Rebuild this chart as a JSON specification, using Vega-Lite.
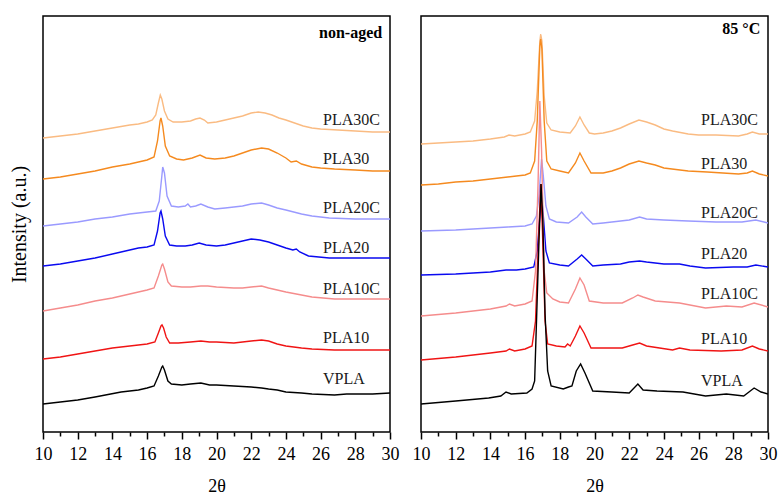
{
"$schema": "https://vega.github.io/schema/vega-lite/v6.json",
"background": "white",
"padding": {"left": 8, "top": 15, "right": 0, "bottom": 0},
"bounds": "flush",
"spacing": 31,
"config": {
  "view": {"stroke": "black", "strokeWidth": 1.5},
  "font": "Liberation Serif",
  "axis": {"grid": false, "labelFont": "Liberation Serif", "titleFont": "Liberation Serif", "labelColor": "black", "titleColor": "black", "titleFontWeight": "normal"}
},
"datasets": {
"curves": [
{"p":"n","s":"PLA30C","x":10,"y":294},{"p":"n","s":"PLA30C","x":11,"y":296},{"p":"n","s":"PLA30C","x":12,"y":298},{"p":"n","s":"PLA30C","x":13,"y":301},{"p":"n","s":"PLA30C","x":14,"y":304},{"p":"n","s":"PLA30C","x":15,"y":307},{"p":"n","s":"PLA30C","x":15.5,"y":308},{"p":"n","s":"PLA30C","x":16,"y":310},{"p":"n","s":"PLA30C","x":16.3,"y":312},{"p":"n","s":"PLA30C","x":16.5,"y":317},{"p":"n","s":"PLA30C","x":16.65,"y":329},{"p":"n","s":"PLA30C","x":16.76,"y":337},{"p":"n","s":"PLA30C","x":16.85,"y":333},{"p":"n","s":"PLA30C","x":17.0,"y":321},{"p":"n","s":"PLA30C","x":17.2,"y":313},{"p":"n","s":"PLA30C","x":17.5,"y":310},{"p":"n","s":"PLA30C","x":18,"y":310},{"p":"n","s":"PLA30C","x":18.5,"y":311},{"p":"n","s":"PLA30C","x":18.8,"y":313},{"p":"n","s":"PLA30C","x":19.05,"y":314},{"p":"n","s":"PLA30C","x":19.3,"y":312},{"p":"n","s":"PLA30C","x":19.5,"y":309},{"p":"n","s":"PLA30C","x":20,"y":310},{"p":"n","s":"PLA30C","x":20.5,"y":312},{"p":"n","s":"PLA30C","x":21,"y":314},{"p":"n","s":"PLA30C","x":21.5,"y":316},{"p":"n","s":"PLA30C","x":22,"y":319},{"p":"n","s":"PLA30C","x":22.4,"y":320},{"p":"n","s":"PLA30C","x":22.8,"y":319},{"p":"n","s":"PLA30C","x":23.2,"y":317},{"p":"n","s":"PLA30C","x":23.6,"y":314},{"p":"n","s":"PLA30C","x":24,"y":312},{"p":"n","s":"PLA30C","x":24.5,"y":309},{"p":"n","s":"PLA30C","x":25,"y":306},{"p":"n","s":"PLA30C","x":25.5,"y":304},{"p":"n","s":"PLA30C","x":26,"y":303},{"p":"n","s":"PLA30C","x":27,"y":302},{"p":"n","s":"PLA30C","x":28,"y":301},{"p":"n","s":"PLA30C","x":29,"y":300},{"p":"n","s":"PLA30C","x":30,"y":300},
{"p":"n","s":"PLA30","x":10,"y":253},{"p":"n","s":"PLA30","x":11,"y":255},{"p":"n","s":"PLA30","x":12,"y":258},{"p":"n","s":"PLA30","x":13,"y":261},{"p":"n","s":"PLA30","x":14,"y":265},{"p":"n","s":"PLA30","x":15,"y":268},{"p":"n","s":"PLA30","x":15.5,"y":270},{"p":"n","s":"PLA30","x":16,"y":272},{"p":"n","s":"PLA30","x":16.4,"y":275},{"p":"n","s":"PLA30","x":16.6,"y":291},{"p":"n","s":"PLA30","x":16.75,"y":311},{"p":"n","s":"PLA30","x":16.8,"y":314},{"p":"n","s":"PLA30","x":16.9,"y":306},{"p":"n","s":"PLA30","x":17.05,"y":286},{"p":"n","s":"PLA30","x":17.3,"y":276},{"p":"n","s":"PLA30","x":17.7,"y":273},{"p":"n","s":"PLA30","x":18.1,"y":272},{"p":"n","s":"PLA30","x":18.6,"y":274},{"p":"n","s":"PLA30","x":19.05,"y":277},{"p":"n","s":"PLA30","x":19.4,"y":274},{"p":"n","s":"PLA30","x":19.9,"y":273},{"p":"n","s":"PLA30","x":20.5,"y":274},{"p":"n","s":"PLA30","x":21,"y":276},{"p":"n","s":"PLA30","x":21.5,"y":279},{"p":"n","s":"PLA30","x":22,"y":282},{"p":"n","s":"PLA30","x":22.6,"y":284},{"p":"n","s":"PLA30","x":23,"y":283},{"p":"n","s":"PLA30","x":23.5,"y":279},{"p":"n","s":"PLA30","x":24,"y":274},{"p":"n","s":"PLA30","x":24.3,"y":270},{"p":"n","s":"PLA30","x":24.6,"y":271},{"p":"n","s":"PLA30","x":24.9,"y":268},{"p":"n","s":"PLA30","x":25.5,"y":265},{"p":"n","s":"PLA30","x":26,"y":264},{"p":"n","s":"PLA30","x":26.8,"y":263},{"p":"n","s":"PLA30","x":28,"y":262},{"p":"n","s":"PLA30","x":29,"y":261},{"p":"n","s":"PLA30","x":30,"y":261},
{"p":"n","s":"PLA20C","x":10,"y":206},{"p":"n","s":"PLA20C","x":11,"y":208},{"p":"n","s":"PLA20C","x":12,"y":210},{"p":"n","s":"PLA20C","x":13,"y":213},{"p":"n","s":"PLA20C","x":14,"y":215},{"p":"n","s":"PLA20C","x":15,"y":218},{"p":"n","s":"PLA20C","x":16,"y":220},{"p":"n","s":"PLA20C","x":16.5,"y":221},{"p":"n","s":"PLA20C","x":16.7,"y":231},{"p":"n","s":"PLA20C","x":16.85,"y":256},{"p":"n","s":"PLA20C","x":16.9,"y":265},{"p":"n","s":"PLA20C","x":17.0,"y":259},{"p":"n","s":"PLA20C","x":17.15,"y":236},{"p":"n","s":"PLA20C","x":17.4,"y":226},{"p":"n","s":"PLA20C","x":17.8,"y":225},{"p":"n","s":"PLA20C","x":18.2,"y":226},{"p":"n","s":"PLA20C","x":18.35,"y":228},{"p":"n","s":"PLA20C","x":18.5,"y":225},{"p":"n","s":"PLA20C","x":18.8,"y":226},{"p":"n","s":"PLA20C","x":19.1,"y":228},{"p":"n","s":"PLA20C","x":19.5,"y":225},{"p":"n","s":"PLA20C","x":19.9,"y":223},{"p":"n","s":"PLA20C","x":20.5,"y":224},{"p":"n","s":"PLA20C","x":21,"y":225},{"p":"n","s":"PLA20C","x":21.5,"y":226},{"p":"n","s":"PLA20C","x":22,"y":228},{"p":"n","s":"PLA20C","x":22.6,"y":229},{"p":"n","s":"PLA20C","x":23,"y":227},{"p":"n","s":"PLA20C","x":23.5,"y":224},{"p":"n","s":"PLA20C","x":24,"y":222},{"p":"n","s":"PLA20C","x":24.9,"y":218},{"p":"n","s":"PLA20C","x":25.5,"y":216},{"p":"n","s":"PLA20C","x":26.5,"y":214},{"p":"n","s":"PLA20C","x":28,"y":213},{"p":"n","s":"PLA20C","x":30,"y":213},
{"p":"n","s":"PLA20","x":10,"y":166},{"p":"n","s":"PLA20","x":11,"y":168},{"p":"n","s":"PLA20","x":12,"y":171},{"p":"n","s":"PLA20","x":13,"y":174},{"p":"n","s":"PLA20","x":14,"y":178},{"p":"n","s":"PLA20","x":15,"y":182},{"p":"n","s":"PLA20","x":15.5,"y":184},{"p":"n","s":"PLA20","x":16,"y":185},{"p":"n","s":"PLA20","x":16.4,"y":187},{"p":"n","s":"PLA20","x":16.6,"y":201},{"p":"n","s":"PLA20","x":16.75,"y":219},{"p":"n","s":"PLA20","x":16.8,"y":221},{"p":"n","s":"PLA20","x":16.9,"y":213},{"p":"n","s":"PLA20","x":17.05,"y":196},{"p":"n","s":"PLA20","x":17.3,"y":187},{"p":"n","s":"PLA20","x":17.7,"y":186},{"p":"n","s":"PLA20","x":18.2,"y":186},{"p":"n","s":"PLA20","x":18.6,"y":187},{"p":"n","s":"PLA20","x":19.0,"y":189},{"p":"n","s":"PLA20","x":19.4,"y":187},{"p":"n","s":"PLA20","x":20,"y":186},{"p":"n","s":"PLA20","x":20.5,"y":187},{"p":"n","s":"PLA20","x":21,"y":189},{"p":"n","s":"PLA20","x":21.5,"y":191},{"p":"n","s":"PLA20","x":22,"y":193},{"p":"n","s":"PLA20","x":22.5,"y":192},{"p":"n","s":"PLA20","x":23,"y":190},{"p":"n","s":"PLA20","x":23.5,"y":187},{"p":"n","s":"PLA20","x":24,"y":184},{"p":"n","s":"PLA20","x":24.4,"y":182},{"p":"n","s":"PLA20","x":24.6,"y":183},{"p":"n","s":"PLA20","x":24.8,"y":180},{"p":"n","s":"PLA20","x":25.3,"y":176},{"p":"n","s":"PLA20","x":26.5,"y":174},{"p":"n","s":"PLA20","x":28,"y":174},{"p":"n","s":"PLA20","x":30,"y":174},
{"p":"n","s":"PLA10C","x":10,"y":121},{"p":"n","s":"PLA10C","x":11,"y":124},{"p":"n","s":"PLA10C","x":12,"y":127},{"p":"n","s":"PLA10C","x":13,"y":131},{"p":"n","s":"PLA10C","x":14,"y":134},{"p":"n","s":"PLA10C","x":15,"y":138},{"p":"n","s":"PLA10C","x":15.5,"y":140},{"p":"n","s":"PLA10C","x":16,"y":142},{"p":"n","s":"PLA10C","x":16.4,"y":144},{"p":"n","s":"PLA10C","x":16.65,"y":156},{"p":"n","s":"PLA10C","x":16.85,"y":167},{"p":"n","s":"PLA10C","x":16.9,"y":168},{"p":"n","s":"PLA10C","x":17.0,"y":163},{"p":"n","s":"PLA10C","x":17.2,"y":150},{"p":"n","s":"PLA10C","x":17.4,"y":146},{"p":"n","s":"PLA10C","x":18,"y":145},{"p":"n","s":"PLA10C","x":18.5,"y":145},{"p":"n","s":"PLA10C","x":19.1,"y":146},{"p":"n","s":"PLA10C","x":19.5,"y":146},{"p":"n","s":"PLA10C","x":20,"y":145},{"p":"n","s":"PLA10C","x":21,"y":144},{"p":"n","s":"PLA10C","x":21.5,"y":144},{"p":"n","s":"PLA10C","x":22,"y":145},{"p":"n","s":"PLA10C","x":22.6,"y":146},{"p":"n","s":"PLA10C","x":23,"y":144},{"p":"n","s":"PLA10C","x":23.5,"y":142},{"p":"n","s":"PLA10C","x":24,"y":140},{"p":"n","s":"PLA10C","x":24.9,"y":137},{"p":"n","s":"PLA10C","x":25.5,"y":135},{"p":"n","s":"PLA10C","x":26.8,"y":133},{"p":"n","s":"PLA10C","x":28,"y":133},{"p":"n","s":"PLA10C","x":30,"y":133},
{"p":"n","s":"PLA10","x":10,"y":73},{"p":"n","s":"PLA10","x":11,"y":75},{"p":"n","s":"PLA10","x":12,"y":78},{"p":"n","s":"PLA10","x":13,"y":81},{"p":"n","s":"PLA10","x":14,"y":84},{"p":"n","s":"PLA10","x":15,"y":86},{"p":"n","s":"PLA10","x":15.5,"y":87},{"p":"n","s":"PLA10","x":16,"y":88},{"p":"n","s":"PLA10","x":16.45,"y":90},{"p":"n","s":"PLA10","x":16.65,"y":99},{"p":"n","s":"PLA10","x":16.8,"y":106},{"p":"n","s":"PLA10","x":16.86,"y":107},{"p":"n","s":"PLA10","x":16.95,"y":104},{"p":"n","s":"PLA10","x":17.1,"y":95},{"p":"n","s":"PLA10","x":17.3,"y":89},{"p":"n","s":"PLA10","x":17.8,"y":89},{"p":"n","s":"PLA10","x":18.5,"y":90},{"p":"n","s":"PLA10","x":19.1,"y":91},{"p":"n","s":"PLA10","x":19.6,"y":90},{"p":"n","s":"PLA10","x":20,"y":90},{"p":"n","s":"PLA10","x":21,"y":89},{"p":"n","s":"PLA10","x":21.5,"y":90},{"p":"n","s":"PLA10","x":22,"y":91},{"p":"n","s":"PLA10","x":22.6,"y":92},{"p":"n","s":"PLA10","x":23,"y":91},{"p":"n","s":"PLA10","x":23.5,"y":88},{"p":"n","s":"PLA10","x":24,"y":86},{"p":"n","s":"PLA10","x":24.9,"y":84},{"p":"n","s":"PLA10","x":25.5,"y":83},{"p":"n","s":"PLA10","x":26.8,"y":82},{"p":"n","s":"PLA10","x":28,"y":82},{"p":"n","s":"PLA10","x":30,"y":82},
{"p":"n","s":"VPLA","x":10,"y":28},{"p":"n","s":"VPLA","x":11,"y":30},{"p":"n","s":"VPLA","x":12,"y":32},{"p":"n","s":"VPLA","x":13,"y":35},{"p":"n","s":"VPLA","x":13.9,"y":38},{"p":"n","s":"VPLA","x":14.5,"y":40},{"p":"n","s":"VPLA","x":15,"y":41},{"p":"n","s":"VPLA","x":15.5,"y":42},{"p":"n","s":"VPLA","x":16,"y":44},{"p":"n","s":"VPLA","x":16.4,"y":46},{"p":"n","s":"VPLA","x":16.65,"y":56},{"p":"n","s":"VPLA","x":16.85,"y":65},{"p":"n","s":"VPLA","x":16.9,"y":66},{"p":"n","s":"VPLA","x":17.0,"y":62},{"p":"n","s":"VPLA","x":17.2,"y":51},{"p":"n","s":"VPLA","x":17.4,"y":48},{"p":"n","s":"VPLA","x":18,"y":47},{"p":"n","s":"VPLA","x":18.5,"y":48},{"p":"n","s":"VPLA","x":19.1,"y":49},{"p":"n","s":"VPLA","x":19.6,"y":47},{"p":"n","s":"VPLA","x":20,"y":47},{"p":"n","s":"VPLA","x":21,"y":46},{"p":"n","s":"VPLA","x":22,"y":45},{"p":"n","s":"VPLA","x":22.6,"y":44},{"p":"n","s":"VPLA","x":23,"y":43},{"p":"n","s":"VPLA","x":23.5,"y":42},{"p":"n","s":"VPLA","x":24,"y":40},{"p":"n","s":"VPLA","x":24.9,"y":39},{"p":"n","s":"VPLA","x":25.5,"y":38},{"p":"n","s":"VPLA","x":26.8,"y":37},{"p":"n","s":"VPLA","x":27.5,"y":38},{"p":"n","s":"VPLA","x":28,"y":38},{"p":"n","s":"VPLA","x":29,"y":38},{"p":"n","s":"VPLA","x":30,"y":39},
{"p":"h","s":"PLA30C","x":10,"y":288},{"p":"h","s":"PLA30C","x":11,"y":289},{"p":"h","s":"PLA30C","x":12,"y":290},{"p":"h","s":"PLA30C","x":13,"y":291},{"p":"h","s":"PLA30C","x":14,"y":293},{"p":"h","s":"PLA30C","x":14.8,"y":295},{"p":"h","s":"PLA30C","x":15.07,"y":297},{"p":"h","s":"PLA30C","x":15.4,"y":296},{"p":"h","s":"PLA30C","x":16,"y":298},{"p":"h","s":"PLA30C","x":16.3,"y":300},{"p":"h","s":"PLA30C","x":16.55,"y":311},{"p":"h","s":"PLA30C","x":16.7,"y":341},{"p":"h","s":"PLA30C","x":16.85,"y":391},{"p":"h","s":"PLA30C","x":16.9,"y":398},{"p":"h","s":"PLA30C","x":16.97,"y":391},{"p":"h","s":"PLA30C","x":17.1,"y":336},{"p":"h","s":"PLA30C","x":17.25,"y":309},{"p":"h","s":"PLA30C","x":17.5,"y":302},{"p":"h","s":"PLA30C","x":18,"y":300},{"p":"h","s":"PLA30C","x":18.6,"y":299},{"p":"h","s":"PLA30C","x":18.9,"y":306},{"p":"h","s":"PLA30C","x":19.16,"y":315},{"p":"h","s":"PLA30C","x":19.4,"y":307},{"p":"h","s":"PLA30C","x":19.7,"y":299},{"p":"h","s":"PLA30C","x":20,"y":298},{"p":"h","s":"PLA30C","x":20.5,"y":299},{"p":"h","s":"PLA30C","x":21,"y":301},{"p":"h","s":"PLA30C","x":21.5,"y":304},{"p":"h","s":"PLA30C","x":22,"y":308},{"p":"h","s":"PLA30C","x":22.56,"y":312},{"p":"h","s":"PLA30C","x":23,"y":310},{"p":"h","s":"PLA30C","x":23.5,"y":307},{"p":"h","s":"PLA30C","x":24,"y":303},{"p":"h","s":"PLA30C","x":24.5,"y":301},{"p":"h","s":"PLA30C","x":25.4,"y":298},{"p":"h","s":"PLA30C","x":26,"y":297},{"p":"h","s":"PLA30C","x":27,"y":297},{"p":"h","s":"PLA30C","x":28.3,"y":296},{"p":"h","s":"PLA30C","x":28.8,"y":298},{"p":"h","s":"PLA30C","x":29.1,"y":300},{"p":"h","s":"PLA30C","x":29.5,"y":298},{"p":"h","s":"PLA30C","x":30,"y":298},
{"p":"h","s":"PLA30","x":10,"y":247},{"p":"h","s":"PLA30","x":11,"y":248},{"p":"h","s":"PLA30","x":12,"y":250},{"p":"h","s":"PLA30","x":13,"y":251},{"p":"h","s":"PLA30","x":14,"y":253},{"p":"h","s":"PLA30","x":15,"y":255},{"p":"h","s":"PLA30","x":15.5,"y":256},{"p":"h","s":"PLA30","x":16,"y":257},{"p":"h","s":"PLA30","x":16.3,"y":259},{"p":"h","s":"PLA30","x":16.55,"y":271},{"p":"h","s":"PLA30","x":16.7,"y":311},{"p":"h","s":"PLA30","x":16.85,"y":386},{"p":"h","s":"PLA30","x":16.9,"y":393},{"p":"h","s":"PLA30","x":16.97,"y":383},{"p":"h","s":"PLA30","x":17.1,"y":311},{"p":"h","s":"PLA30","x":17.25,"y":271},{"p":"h","s":"PLA30","x":17.5,"y":263},{"p":"h","s":"PLA30","x":18,"y":261},{"p":"h","s":"PLA30","x":18.5,"y":259},{"p":"h","s":"PLA30","x":18.9,"y":269},{"p":"h","s":"PLA30","x":19.16,"y":279},{"p":"h","s":"PLA30","x":19.4,"y":271},{"p":"h","s":"PLA30","x":19.8,"y":259},{"p":"h","s":"PLA30","x":20.5,"y":259},{"p":"h","s":"PLA30","x":21,"y":261},{"p":"h","s":"PLA30","x":21.5,"y":264},{"p":"h","s":"PLA30","x":22,"y":268},{"p":"h","s":"PLA30","x":22.56,"y":271},{"p":"h","s":"PLA30","x":23,"y":269},{"p":"h","s":"PLA30","x":23.5,"y":267},{"p":"h","s":"PLA30","x":24,"y":264},{"p":"h","s":"PLA30","x":25.4,"y":261},{"p":"h","s":"PLA30","x":26.5,"y":260},{"p":"h","s":"PLA30","x":28.3,"y":258},{"p":"h","s":"PLA30","x":28.8,"y":259},{"p":"h","s":"PLA30","x":29.1,"y":261},{"p":"h","s":"PLA30","x":29.5,"y":258},{"p":"h","s":"PLA30","x":30,"y":256},
{"p":"h","s":"PLA20C","x":10,"y":201},{"p":"h","s":"PLA20C","x":12,"y":202},{"p":"h","s":"PLA20C","x":14,"y":204},{"p":"h","s":"PLA20C","x":15,"y":205},{"p":"h","s":"PLA20C","x":16,"y":206},{"p":"h","s":"PLA20C","x":16.4,"y":208},{"p":"h","s":"PLA20C","x":16.65,"y":216},{"p":"h","s":"PLA20C","x":16.8,"y":236},{"p":"h","s":"PLA20C","x":16.95,"y":273},{"p":"h","s":"PLA20C","x":17.05,"y":256},{"p":"h","s":"PLA20C","x":17.2,"y":226},{"p":"h","s":"PLA20C","x":17.4,"y":213},{"p":"h","s":"PLA20C","x":17.8,"y":210},{"p":"h","s":"PLA20C","x":18.5,"y":209},{"p":"h","s":"PLA20C","x":19,"y":215},{"p":"h","s":"PLA20C","x":19.26,"y":220},{"p":"h","s":"PLA20C","x":19.5,"y":215},{"p":"h","s":"PLA20C","x":19.9,"y":208},{"p":"h","s":"PLA20C","x":20.5,"y":209},{"p":"h","s":"PLA20C","x":21,"y":210},{"p":"h","s":"PLA20C","x":22,"y":212},{"p":"h","s":"PLA20C","x":22.6,"y":215},{"p":"h","s":"PLA20C","x":23,"y":213},{"p":"h","s":"PLA20C","x":24,"y":212},{"p":"h","s":"PLA20C","x":25.4,"y":211},{"p":"h","s":"PLA20C","x":27,"y":210},{"p":"h","s":"PLA20C","x":28.5,"y":210},{"p":"h","s":"PLA20C","x":29.3,"y":212},{"p":"h","s":"PLA20C","x":30,"y":209},
{"p":"h","s":"PLA20","x":10,"y":157},{"p":"h","s":"PLA20","x":12,"y":158},{"p":"h","s":"PLA20","x":14,"y":160},{"p":"h","s":"PLA20","x":14.9,"y":162},{"p":"h","s":"PLA20","x":15.5,"y":162},{"p":"h","s":"PLA20","x":16,"y":163},{"p":"h","s":"PLA20","x":16.5,"y":165},{"p":"h","s":"PLA20","x":16.7,"y":181},{"p":"h","s":"PLA20","x":16.85,"y":216},{"p":"h","s":"PLA20","x":16.95,"y":235},{"p":"h","s":"PLA20","x":17.05,"y":216},{"p":"h","s":"PLA20","x":17.2,"y":181},{"p":"h","s":"PLA20","x":17.4,"y":169},{"p":"h","s":"PLA20","x":18,"y":167},{"p":"h","s":"PLA20","x":18.5,"y":166},{"p":"h","s":"PLA20","x":19,"y":173},{"p":"h","s":"PLA20","x":19.26,"y":177},{"p":"h","s":"PLA20","x":19.5,"y":173},{"p":"h","s":"PLA20","x":19.9,"y":166},{"p":"h","s":"PLA20","x":20.5,"y":167},{"p":"h","s":"PLA20","x":21.5,"y":168},{"p":"h","s":"PLA20","x":22,"y":170},{"p":"h","s":"PLA20","x":22.6,"y":171},{"p":"h","s":"PLA20","x":23,"y":170},{"p":"h","s":"PLA20","x":24,"y":168},{"p":"h","s":"PLA20","x":24.9,"y":168},{"p":"h","s":"PLA20","x":25.5,"y":166},{"p":"h","s":"PLA20","x":26.4,"y":164},{"p":"h","s":"PLA20","x":28,"y":165},{"p":"h","s":"PLA20","x":28.8,"y":165},{"p":"h","s":"PLA20","x":29.3,"y":167},{"p":"h","s":"PLA20","x":30,"y":165},
{"p":"h","s":"PLA10C","x":10,"y":116},{"p":"h","s":"PLA10C","x":12,"y":119},{"p":"h","s":"PLA10C","x":14,"y":123},{"p":"h","s":"PLA10C","x":14.9,"y":126},{"p":"h","s":"PLA10C","x":15.1,"y":128},{"p":"h","s":"PLA10C","x":15.4,"y":126},{"p":"h","s":"PLA10C","x":16,"y":128},{"p":"h","s":"PLA10C","x":16.4,"y":131},{"p":"h","s":"PLA10C","x":16.6,"y":161},{"p":"h","s":"PLA10C","x":16.75,"y":251},{"p":"h","s":"PLA10C","x":16.85,"y":331},{"p":"h","s":"PLA10C","x":16.95,"y":281},{"p":"h","s":"PLA10C","x":17.1,"y":161},{"p":"h","s":"PLA10C","x":17.25,"y":139},{"p":"h","s":"PLA10C","x":17.6,"y":133},{"p":"h","s":"PLA10C","x":18,"y":130},{"p":"h","s":"PLA10C","x":18.5,"y":129},{"p":"h","s":"PLA10C","x":18.9,"y":143},{"p":"h","s":"PLA10C","x":19.16,"y":154},{"p":"h","s":"PLA10C","x":19.4,"y":147},{"p":"h","s":"PLA10C","x":19.7,"y":131},{"p":"h","s":"PLA10C","x":20.5,"y":129},{"p":"h","s":"PLA10C","x":21.6,"y":129},{"p":"h","s":"PLA10C","x":22.2,"y":134},{"p":"h","s":"PLA10C","x":22.5,"y":137},{"p":"h","s":"PLA10C","x":22.8,"y":135},{"p":"h","s":"PLA10C","x":23.5,"y":131},{"p":"h","s":"PLA10C","x":24.9,"y":129},{"p":"h","s":"PLA10C","x":26.4,"y":124},{"p":"h","s":"PLA10C","x":27.6,"y":126},{"p":"h","s":"PLA10C","x":28.5,"y":125},{"p":"h","s":"PLA10C","x":29.2,"y":129},{"p":"h","s":"PLA10C","x":30,"y":125},
{"p":"h","s":"PLA10","x":10,"y":72},{"p":"h","s":"PLA10","x":12,"y":75},{"p":"h","s":"PLA10","x":14,"y":79},{"p":"h","s":"PLA10","x":14.9,"y":81},{"p":"h","s":"PLA10","x":15.1,"y":83},{"p":"h","s":"PLA10","x":15.4,"y":81},{"p":"h","s":"PLA10","x":16,"y":83},{"p":"h","s":"PLA10","x":16.4,"y":86},{"p":"h","s":"PLA10","x":16.6,"y":111},{"p":"h","s":"PLA10","x":16.75,"y":181},{"p":"h","s":"PLA10","x":16.9,"y":248},{"p":"h","s":"PLA10","x":17.0,"y":201},{"p":"h","s":"PLA10","x":17.15,"y":111},{"p":"h","s":"PLA10","x":17.3,"y":88},{"p":"h","s":"PLA10","x":17.8,"y":86},{"p":"h","s":"PLA10","x":18.3,"y":85},{"p":"h","s":"PLA10","x":18.45,"y":88},{"p":"h","s":"PLA10","x":18.6,"y":86},{"p":"h","s":"PLA10","x":18.9,"y":96},{"p":"h","s":"PLA10","x":19.16,"y":106},{"p":"h","s":"PLA10","x":19.4,"y":99},{"p":"h","s":"PLA10","x":19.8,"y":84},{"p":"h","s":"PLA10","x":20.5,"y":84},{"p":"h","s":"PLA10","x":21.6,"y":84},{"p":"h","s":"PLA10","x":22.2,"y":87},{"p":"h","s":"PLA10","x":22.6,"y":89},{"p":"h","s":"PLA10","x":23,"y":86},{"p":"h","s":"PLA10","x":24.5,"y":82},{"p":"h","s":"PLA10","x":24.9,"y":84},{"p":"h","s":"PLA10","x":25.5,"y":82},{"p":"h","s":"PLA10","x":27.3,"y":81},{"p":"h","s":"PLA10","x":28.5,"y":82},{"p":"h","s":"PLA10","x":29.1,"y":86},{"p":"h","s":"PLA10","x":29.5,"y":83},{"p":"h","s":"PLA10","x":30,"y":81},
{"p":"h","s":"VPLA","x":10,"y":28},{"p":"h","s":"VPLA","x":12,"y":31},{"p":"h","s":"VPLA","x":13.9,"y":34},{"p":"h","s":"VPLA","x":14.6,"y":36},{"p":"h","s":"VPLA","x":14.9,"y":40},{"p":"h","s":"VPLA","x":15.2,"y":38},{"p":"h","s":"VPLA","x":16.1,"y":39},{"p":"h","s":"VPLA","x":16.4,"y":43},{"p":"h","s":"VPLA","x":16.55,"y":51},{"p":"h","s":"VPLA","x":16.67,"y":118},{"p":"h","s":"VPLA","x":16.8,"y":191},{"p":"h","s":"VPLA","x":16.92,"y":248},{"p":"h","s":"VPLA","x":17.02,"y":211},{"p":"h","s":"VPLA","x":17.15,"y":118},{"p":"h","s":"VPLA","x":17.3,"y":61},{"p":"h","s":"VPLA","x":17.5,"y":46},{"p":"h","s":"VPLA","x":18.2,"y":43},{"p":"h","s":"VPLA","x":18.5,"y":45},{"p":"h","s":"VPLA","x":18.7,"y":46},{"p":"h","s":"VPLA","x":18.95,"y":61},{"p":"h","s":"VPLA","x":19.2,"y":68},{"p":"h","s":"VPLA","x":19.45,"y":59},{"p":"h","s":"VPLA","x":19.9,"y":41},{"p":"h","s":"VPLA","x":21,"y":40},{"p":"h","s":"VPLA","x":22.0,"y":39},{"p":"h","s":"VPLA","x":22.5,"y":48},{"p":"h","s":"VPLA","x":22.8,"y":42},{"p":"h","s":"VPLA","x":23.6,"y":41},{"p":"h","s":"VPLA","x":25.1,"y":40},{"p":"h","s":"VPLA","x":26.4,"y":36},{"p":"h","s":"VPLA","x":27.6,"y":38},{"p":"h","s":"VPLA","x":28.6,"y":36},{"p":"h","s":"VPLA","x":29.2,"y":44},{"p":"h","s":"VPLA","x":29.6,"y":40},{"p":"h","s":"VPLA","x":30,"y":38}
],
"labels": [
{"p":"n","s":"PLA30C","x":26.14,"y":312},{"p":"n","s":"PLA30","x":26.14,"y":273},{"p":"n","s":"PLA20C","x":26.14,"y":224},{"p":"n","s":"PLA20","x":26.14,"y":184},{"p":"n","s":"PLA10C","x":26.14,"y":143},{"p":"n","s":"PLA10","x":26.14,"y":94},{"p":"n","s":"VPLA","x":26.14,"y":53},
{"p":"h","s":"PLA30C","x":26.14,"y":312},{"p":"h","s":"PLA30","x":26.14,"y":268},{"p":"h","s":"PLA20C","x":26.14,"y":219},{"p":"h","s":"PLA20","x":26.14,"y":178},{"p":"h","s":"PLA10C","x":26.14,"y":138},{"p":"h","s":"PLA10","x":26.14,"y":93},{"p":"h","s":"VPLA","x":26.14,"y":51}
],
"titles": [
{"p":"n","t":"non-aged","x":29.55,"y":399},
{"p":"h","t":"85 °C","x":29.55,"y":403}
]
},
"hconcat": [
{
 "width": 347, "height": 416,
 "resolve": {"axis": {"x": "independent"}},
 "layer": [
  {
   "data": {"name": "curves"},
   "transform": [{"filter": "datum.p === 'n'"}],
   "mark": {"type": "line", "strokeWidth": 1.4, "clip": true},
   "encoding": {
    "x": {"field": "x", "type": "quantitative",
      "scale": {"domain": [10, 30], "nice": false, "zero": false},
      "axis": {"orient": "bottom", "title": "2θ", "values": [10,12,14,16,18,20,22,24,26,28,30],
        "labelFlush": false, "labelOverlap": false,
        "domain": false, "tickColor": "black", "tickWidth": 1.5, "tickSize": 7,
        "labelFontSize": 18, "labelPadding": 6, "titleFontSize": 18, "titlePadding": 14}},
    "y": {"field": "y", "type": "quantitative",
      "scale": {"domain": [0, 416], "nice": false},
      "axis": {"title": "Intensity (a.u.)", "labels": false, "ticks": false, "domain": false,
        "titleFontSize": 20, "titlePadding": 14}},
    "color": {"field": "s", "type": "nominal", "legend": null,
      "scale": {"domain": ["PLA30C","PLA30","PLA20C","PLA20","PLA10C","PLA10","VPLA"],
        "range": ["#FABB82","#F58A1F","#9A9AFF","#0A0AF0","#F58C8C","#F01414","#000000"]}}
   }
  },
  {
   "data": {"name": "labels"},
   "transform": [{"filter": "datum.p === 'n'"}],
   "mark": {"type": "text", "align": "left", "baseline": "middle", "fontSize": 16, "font": "Liberation Serif", "color": "#1a1a1a"},
   "encoding": {
    "x": {"field": "x", "type": "quantitative",
      "axis": {"orient": "bottom", "title": null, "values": [11,13,15,17,19,21,23,25,27,29], "labels": false,
        "domain": false, "tickColor": "black", "tickWidth": 1.5, "tickSize": 4}},
    "y": {"field": "y", "type": "quantitative"},
    "text": {"field": "s"}
   }
  },
  {
   "data": {"name": "titles"},
   "transform": [{"filter": "datum.p === 'n'"}],
   "mark": {"type": "text", "align": "right", "baseline": "middle", "fontSize": 16, "fontWeight": "bold", "font": "Liberation Serif", "color": "black"},
   "encoding": {
    "x": {"field": "x", "type": "quantitative", "axis": null},
    "y": {"field": "y", "type": "quantitative"},
    "text": {"field": "t"}
   }
  }
 ]
},
{
 "width": 347, "height": 416,
 "resolve": {"axis": {"x": "independent"}},
 "layer": [
  {
   "data": {"name": "curves"},
   "transform": [{"filter": "datum.p === 'h'"}],
   "mark": {"type": "line", "strokeWidth": 1.4, "clip": true},
   "encoding": {
    "x": {"field": "x", "type": "quantitative",
      "scale": {"domain": [10, 30], "nice": false, "zero": false},
      "axis": {"orient": "bottom", "title": "2θ", "values": [10,12,14,16,18,20,22,24,26,28,30],
        "labelFlush": false, "labelOverlap": false,
        "domain": false, "tickColor": "black", "tickWidth": 1.5, "tickSize": 7,
        "labelFontSize": 18, "labelPadding": 6, "titleFontSize": 18, "titlePadding": 14}},
    "y": {"field": "y", "type": "quantitative",
      "scale": {"domain": [0, 416], "nice": false},
      "axis": null},
    "color": {"field": "s", "type": "nominal", "legend": null,
      "scale": {"domain": ["PLA30C","PLA30","PLA20C","PLA20","PLA10C","PLA10","VPLA"],
        "range": ["#FABB82","#F58A1F","#9A9AFF","#0A0AF0","#F58C8C","#F01414","#000000"]}}
   }
  },
  {
   "data": {"name": "labels"},
   "transform": [{"filter": "datum.p === 'h'"}],
   "mark": {"type": "text", "align": "left", "baseline": "middle", "fontSize": 16, "font": "Liberation Serif", "color": "#1a1a1a"},
   "encoding": {
    "x": {"field": "x", "type": "quantitative",
      "axis": {"orient": "bottom", "title": null, "values": [11,13,15,17,19,21,23,25,27,29], "labels": false,
        "domain": false, "tickColor": "black", "tickWidth": 1.5, "tickSize": 4}},
    "y": {"field": "y", "type": "quantitative"},
    "text": {"field": "s"}
   }
  },
  {
   "data": {"name": "titles"},
   "transform": [{"filter": "datum.p === 'h'"}],
   "mark": {"type": "text", "align": "right", "baseline": "middle", "fontSize": 16, "fontWeight": "bold", "font": "Liberation Serif", "color": "black"},
   "encoding": {
    "x": {"field": "x", "type": "quantitative", "axis": null},
    "y": {"field": "y", "type": "quantitative"},
    "text": {"field": "t"}
   }
  }
 ]
}
]
}
